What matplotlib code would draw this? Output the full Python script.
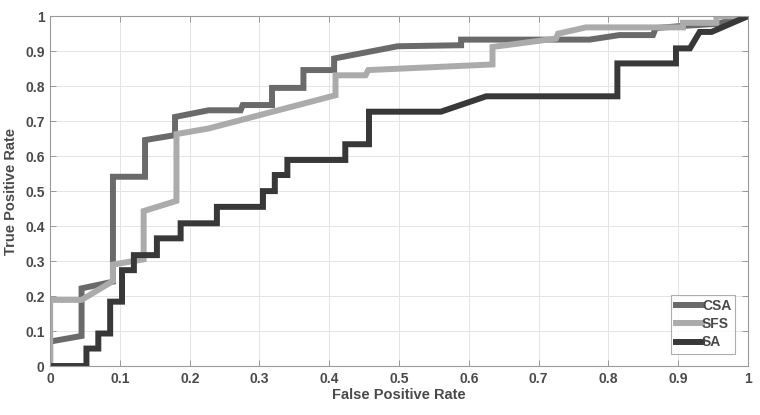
import matplotlib
matplotlib.use('Agg')
import matplotlib.pyplot as plt

plt.rcParams['font.family'] = ['Liberation Sans', 'DejaVu Sans']
plt.rcParams['font.weight'] = 'bold'

# ROC curve vertices
csa_fpr = [0, 0, 0.045, 0.045, 0.09, 0.09, 0.136, 0.136, 0.179, 0.179, 0.227, 0.273,
           0.276, 0.318, 0.318, 0.363, 0.363, 0.407, 0.407, 0.498, 0.589, 0.589, 0.773,
           0.816, 0.864, 0.868, 0.905, 0.955, 1.0]
csa_tpr = [0, 0.07, 0.086, 0.222, 0.241, 0.541, 0.541, 0.646, 0.66, 0.712, 0.731, 0.731,
           0.746, 0.746, 0.795, 0.795, 0.846, 0.846, 0.879, 0.914, 0.917, 0.933, 0.933,
           0.946, 0.946, 0.966, 0.972, 0.978, 1.0]

sfs_fpr = [0, 0, 0.045, 0.09, 0.09, 0.134, 0.134, 0.181, 0.181, 0.227, 0.409, 0.409,
           0.452, 0.456, 0.634, 0.634, 0.725, 0.728, 0.768, 0.907, 0.907, 0.955, 0.955, 1.0]
sfs_tpr = [0, 0.189, 0.189, 0.243, 0.29, 0.305, 0.443, 0.472, 0.663, 0.679, 0.774, 0.831,
           0.831, 0.846, 0.862, 0.912, 0.936, 0.95, 0.968, 0.968, 0.981, 0.981, 1.0, 1.0]

sa_fpr = [0, 0.052, 0.052, 0.069, 0.069, 0.086, 0.086, 0.103, 0.103, 0.12, 0.12, 0.153,
          0.153, 0.187, 0.187, 0.239, 0.239, 0.305, 0.305, 0.322, 0.322, 0.34, 0.34, 0.423,
          0.423, 0.457, 0.457, 0.56, 0.625, 0.813, 0.813, 0.897, 0.897, 0.917, 0.931,
          0.948, 1.0]
sa_tpr = [0, 0, 0.05, 0.05, 0.093, 0.093, 0.184, 0.184, 0.274, 0.274, 0.317, 0.317,
          0.365, 0.365, 0.408, 0.408, 0.455, 0.455, 0.5, 0.5, 0.546, 0.546, 0.589, 0.589,
          0.634, 0.634, 0.727, 0.727, 0.771, 0.771, 0.865, 0.865, 0.908, 0.908, 0.955,
          0.955, 1.0]

ticks = [0, 0.1, 0.2, 0.3, 0.4, 0.5, 0.6, 0.7, 0.8, 0.9, 1]
tick_labels = ['0', '0.1', '0.2', '0.3', '0.4', '0.5', '0.6', '0.7', '0.8', '0.9', '1']

fig = plt.figure(figsize=(7.6, 4.15), dpi=100)
ax = fig.add_axes([0.066, 0.118, 0.918, 0.843])

lw = 4.3
ax.plot(csa_fpr, csa_tpr, color='#6a6a6a', lw=lw, label='CSA', solid_joinstyle='miter')
ax.plot(sfs_fpr, sfs_tpr, color='#ababab', lw=lw, label='SFS', solid_joinstyle='miter')
ax.plot(sa_fpr, sa_tpr, color='#383838', lw=lw, label='SA', solid_joinstyle='miter')

ax.set_xlim(0, 1)
ax.set_ylim(0, 1)
ax.set_xticks(ticks)
ax.set_xticklabels(tick_labels)
ax.set_yticks(ticks)
ax.set_yticklabels(tick_labels)
ax.tick_params(direction='in', top=True, right=True, length=4, width=0.7,
               colors='#999999', labelcolor='#4a4a4a', labelsize=10, pad=4)
ax.grid(True, color='#e4e4e4', lw=0.7)
ax.set_axisbelow(True)
for s in ax.spines.values():
    s.set_color('#9a9a9a')
    s.set_linewidth(0.8)

ax.set_xlabel('False Positive Rate', fontsize=10.5, fontweight='bold', color='#4a4a4a', labelpad=2)
ax.set_ylabel('True Positive Rate', fontsize=10.5, fontweight='bold', color='#4a4a4a', labelpad=5)

leg = ax.legend(loc='lower right', fontsize=10, frameon=True, fancybox=False,
                handlelength=1.9, handletextpad=0.0, borderpad=0.3, labelspacing=0.3,
                borderaxespad=0.9)
leg.get_frame().set_edgecolor('#9a9a9a')
leg.get_frame().set_linewidth(0.8)
for t in leg.get_texts():
    t.set_color('#4a4a4a')

fig.savefig('out.png', dpi=100)
